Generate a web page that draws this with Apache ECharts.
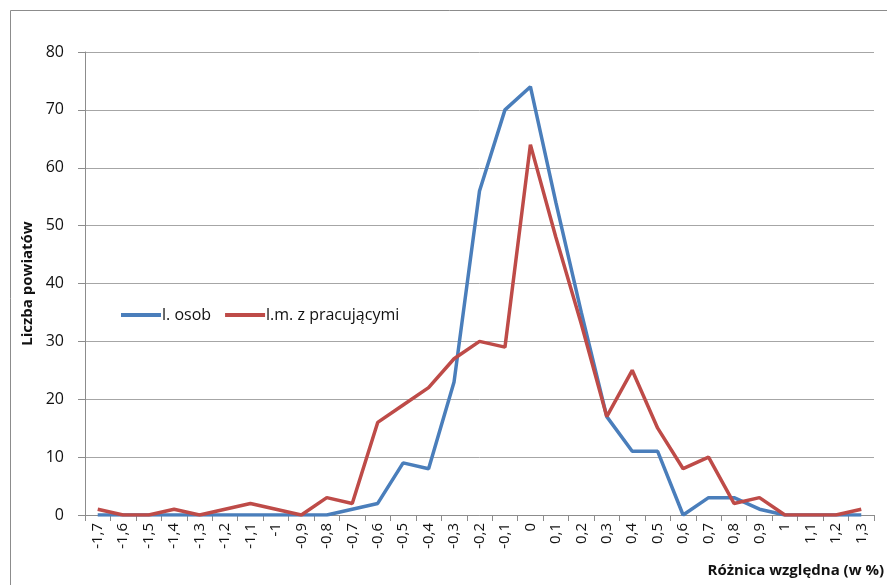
<!DOCTYPE html>
<html>
<head>
<meta charset="utf-8">
<script src="https://cdn.jsdelivr.net/npm/echarts@6/dist/echarts.min.js"></script>
<style>html,body{margin:0;padding:0;background:#fff}#c{width:887px;height:585px}</style>
</head>
<body>
<div id="c"></div>
<script>
const categories = ["-1,7","-1,6","-1,5","-1,4","-1,3","-1,2","-1,1","-1","-0,9","-0,8","-0,7","-0,6","-0,5","-0,4","-0,3","-0,2","-0,1","0","0,1","0,2","0,3","0,4","0,5","0,6","0,7","0,8","0,9","1","1,1","1,2","1,3"];
const osobValues = [0,0,0,0,0,0,0,0,0,0,1,2,9,8,23,56,70,74,54,35,17,11,11,0,3,3,1,0,0,0,0];
const pracValues = [1,0,0,1,0,1,2,1,0,3,2,16,19,22,27,30,29,64,48,33,17,25,15,8,10,2,3,0,0,0,1];
const seriesNames = ["l. osob","l.m. z pracującymi"];
const yTicks = {min:0, max:80, interval:10};

const FONT = "'Open Sans','Noto Sans',sans-serif";
const chart = echarts.init(document.getElementById('c'), null, {renderer:'canvas'});
chart.setOption({
  animation:false,
  backgroundColor:'#fff',
  textStyle:{fontFamily:FONT},
  graphic:[{type:'rect', shape:{x:10.5,y:10.5,width:900,height:600}, style:{fill:'none',stroke:'#8c8c8c',lineWidth:1}, silent:true}],
  grid:{left:85, right:12, top:52, bottom:70, containLabel:false},
  legend:{
    left:116, top:302, itemWidth:40, itemHeight:4, itemGap:14,
    icon:'rect',
    textStyle:{fontFamily:FONT, fontSize:16, color:'#111', padding:[0,0,0,-4]},
    data:seriesNames
  },
  xAxis:{
    type:'category', data:categories, boundaryGap:true,
    name:'Różnica względna (w %)', nameLocation:'end', nameGap:10,
    nameTextStyle:{fontFamily:FONT, fontWeight:'bold', fontSize:15, color:'#111', align:'right', verticalAlign:'top', padding:[48,0,0,0]},
    axisLine:{lineStyle:{color:'#8c8c8c', width:1}},
    axisTick:{show:true, length:6, lineStyle:{color:'#8c8c8c'}, alignWithLabel:false},
    axisLabel:{rotate:90, fontSize:15, color:'#111', margin:8, interval:0, fontFamily:FONT}
  },
  yAxis:{
    type:'value', min:yTicks.min, max:yTicks.max, interval:yTicks.interval,
    name:'Liczba powiatów', nameLocation:'middle', nameGap:48,
    nameTextStyle:{fontFamily:FONT, fontWeight:'bold', fontSize:15, color:'#111'},
    axisLine:{show:true, lineStyle:{color:'#8c8c8c', width:1}},
    axisTick:{show:true, length:7, lineStyle:{color:'#8c8c8c'}},
    axisLabel:{fontSize:16, color:'#111', margin:21, fontFamily:FONT},
    splitLine:{lineStyle:{color:'#a6a6a6', width:1}}
  },
  series:[
    {name:seriesNames[0], type:'line', data:osobValues, symbol:'none', color:'#4A7EBB', lineStyle:{width:3.5, color:'#4A7EBB'}, z:2},
    {name:seriesNames[1], type:'line', data:pracValues, symbol:'none', color:'#BE4B48', lineStyle:{width:3.5, color:'#BE4B48'}, z:3}
  ]
});
</script>
</body>
</html>
